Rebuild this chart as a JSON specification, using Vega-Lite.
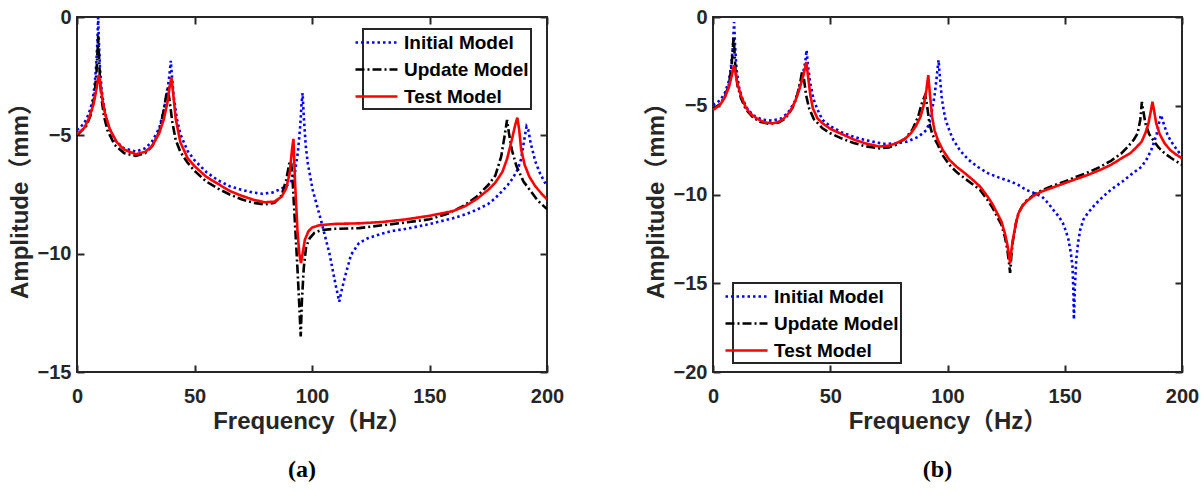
{
  "$schema": "https://vega.github.io/schema/vega-lite/v6.json",
  "background": "white",
  "padding": {"left": 7, "top": 6, "right": 0, "bottom": 0},
  "spacing": 78,
  "config": {
    "font": "Liberation Sans",
    "view": {"stroke": "#262626", "strokeWidth": 2},
    "axis": {
      "labelFont": "Liberation Sans", "labelFontWeight": "bold", "labelFontSize": 20, "labelColor": "#262626",
      "titleFont": "Liberation Sans, Noto Sans CJK SC", "titleFontWeight": "bold", "titleFontSize": 24, "titleColor": "#262626",
      "domain": false, "ticks": true, "tickColor": "#262626", "tickWidth": 2, "tickSize": 7, "offset": -7, "grid": false, "labelFlush": false, "zindex": 1
    },
    "axisX": {"labelPadding": 14, "titlePadding": 3},
    "axisY": {"labelPadding": 6, "titlePadding": 5},
    "legend": {
      "labelFont": "Liberation Sans", "labelFontWeight": "bold", "labelFontSize": 19, "labelColor": "#000000",
      "strokeColor": "#262626", "strokeWidth": 2, "fillColor": "white", "padding": 2,
      "symbolType": "M-2.1,0H2.1", "symbolSize": 400, "symbolStrokeWidth": 2.5, "rowPadding": 5, "labelOffset": 16
    }
  },
  "resolve": {"scale": {"color": "independent", "strokeDash": "independent"}, "legend": {"color": "independent", "strokeDash": "independent"}},
  "datasets": {
    "a": [
      {"m":"Initial Model","f":0,"v":-4.78},{"m":"Initial Model","f":3,"v":-4.5},{"m":"Initial Model","f":5,"v":-4.1},{"m":"Initial Model","f":6.5,"v":-3.6},{"m":"Initial Model","f":7.5,"v":-2.9},{"m":"Initial Model","f":8.2,"v":-2.0},{"m":"Initial Model","f":8.7,"v":-1.0},{"m":"Initial Model","f":9.0,"v":-0.02},{"m":"Initial Model","f":9.3,"v":-1.0},{"m":"Initial Model","f":9.8,"v":-2.2},{"m":"Initial Model","f":10.5,"v":-3.1},{"m":"Initial Model","f":11.5,"v":-3.8},{"m":"Initial Model","f":13,"v":-4.5},{"m":"Initial Model","f":16,"v":-5.2},{"m":"Initial Model","f":20,"v":-5.55},{"m":"Initial Model","f":25,"v":-5.69},{"m":"Initial Model","f":29,"v":-5.55},{"m":"Initial Model","f":32,"v":-5.25},{"m":"Initial Model","f":35,"v":-4.7},{"m":"Initial Model","f":37,"v":-3.9},{"m":"Initial Model","f":38.5,"v":-3.1},{"m":"Initial Model","f":39.4,"v":-2.4},{"m":"Initial Model","f":39.9,"v":-1.85},{"m":"Initial Model","f":40.4,"v":-2.5},{"m":"Initial Model","f":41.2,"v":-3.4},{"m":"Initial Model","f":42.5,"v":-4.3},{"m":"Initial Model","f":44,"v":-4.95},{"m":"Initial Model","f":47,"v":-5.65},{"m":"Initial Model","f":50,"v":-6.05},{"m":"Initial Model","f":55,"v":-6.55},{"m":"Initial Model","f":60,"v":-6.9},{"m":"Initial Model","f":65,"v":-7.15},{"m":"Initial Model","f":70,"v":-7.3},{"m":"Initial Model","f":75,"v":-7.42},{"m":"Initial Model","f":79,"v":-7.47},{"m":"Initial Model","f":83,"v":-7.42},{"m":"Initial Model","f":86,"v":-7.3},{"m":"Initial Model","f":89,"v":-7.15},{"m":"Initial Model","f":91,"v":-6.95},{"m":"Initial Model","f":92.7,"v":-6.6},{"m":"Initial Model","f":94,"v":-5.7},{"m":"Initial Model","f":95,"v":-4.6},{"m":"Initial Model","f":95.6,"v":-3.6},{"m":"Initial Model","f":96,"v":-3.22},{"m":"Initial Model","f":96.5,"v":-4.2},{"m":"Initial Model","f":97.3,"v":-5.4},{"m":"Initial Model","f":98.2,"v":-6.18},{"m":"Initial Model","f":100.3,"v":-7.31},{"m":"Initial Model","f":103.8,"v":-8.58},{"m":"Initial Model","f":107.4,"v":-9.98},{"m":"Initial Model","f":110.2,"v":-11.39},{"m":"Initial Model","f":111.6,"v":-12.03},{"m":"Initial Model","f":112.5,"v":-11.6},{"m":"Initial Model","f":113.7,"v":-11.1},{"m":"Initial Model","f":116.6,"v":-10.05},{"m":"Initial Model","f":120,"v":-9.55},{"m":"Initial Model","f":123.7,"v":-9.35},{"m":"Initial Model","f":130,"v":-9.15},{"m":"Initial Model","f":133.6,"v":-9.05},{"m":"Initial Model","f":140,"v":-8.95},{"m":"Initial Model","f":150,"v":-8.75},{"m":"Initial Model","f":160,"v":-8.5},{"m":"Initial Model","f":165,"v":-8.35},{"m":"Initial Model","f":170,"v":-8.15},{"m":"Initial Model","f":175,"v":-7.9},{"m":"Initial Model","f":178,"v":-7.65},{"m":"Initial Model","f":181,"v":-7.35},{"m":"Initial Model","f":183.3,"v":-7.1},{"m":"Initial Model","f":185.5,"v":-6.8},{"m":"Initial Model","f":187.5,"v":-6.45},{"m":"Initial Model","f":189,"v":-6.0},{"m":"Initial Model","f":190.3,"v":-5.2},{"m":"Initial Model","f":191.3,"v":-4.63},{"m":"Initial Model","f":192,"v":-4.75},{"m":"Initial Model","f":193,"v":-5.3},{"m":"Initial Model","f":195,"v":-6.1},{"m":"Initial Model","f":197,"v":-6.6},{"m":"Initial Model","f":200,"v":-7.16},

      {"m":"Update Model","f":0,"v":-5.0},{"m":"Update Model","f":4,"v":-4.6},{"m":"Update Model","f":6,"v":-4.1},{"m":"Update Model","f":7.5,"v":-3.3},{"m":"Update Model","f":8.3,"v":-2.3},{"m":"Update Model","f":8.8,"v":-1.3},{"m":"Update Model","f":9.0,"v":-0.8},{"m":"Update Model","f":9.3,"v":-1.5},{"m":"Update Model","f":9.8,"v":-2.7},{"m":"Update Model","f":10.5,"v":-3.5},{"m":"Update Model","f":11.5,"v":-4.2},{"m":"Update Model","f":13,"v":-4.8},{"m":"Update Model","f":16,"v":-5.4},{"m":"Update Model","f":20,"v":-5.75},{"m":"Update Model","f":25,"v":-5.87},{"m":"Update Model","f":29,"v":-5.75},{"m":"Update Model","f":32,"v":-5.45},{"m":"Update Model","f":35,"v":-4.85},{"m":"Update Model","f":37,"v":-3.9},{"m":"Update Model","f":38.3,"v":-3.1},{"m":"Update Model","f":38.7,"v":-3.05},{"m":"Update Model","f":39.5,"v":-3.6},{"m":"Update Model","f":40.5,"v":-4.4},{"m":"Update Model","f":42,"v":-5.2},{"m":"Update Model","f":44,"v":-5.7},{"m":"Update Model","f":47,"v":-6.15},{"m":"Update Model","f":50,"v":-6.5},{"m":"Update Model","f":55,"v":-6.95},{"m":"Update Model","f":60,"v":-7.25},{"m":"Update Model","f":65,"v":-7.5},{"m":"Update Model","f":70,"v":-7.7},{"m":"Update Model","f":75,"v":-7.85},{"m":"Update Model","f":80,"v":-7.92},{"m":"Update Model","f":84,"v":-7.85},{"m":"Update Model","f":87,"v":-7.55},{"m":"Update Model","f":89,"v":-6.9},{"m":"Update Model","f":90.3,"v":-6.2},{"m":"Update Model","f":91.1,"v":-6.1},{"m":"Update Model","f":91.8,"v":-7.0},{"m":"Update Model","f":92.8,"v":-8.8},{"m":"Update Model","f":93.8,"v":-10.6},{"m":"Update Model","f":94.6,"v":-12.2},{"m":"Update Model","f":95.2,"v":-13.5},{"m":"Update Model","f":95.7,"v":-12.0},{"m":"Update Model","f":96.5,"v":-10.6},{"m":"Update Model","f":97.5,"v":-9.7},{"m":"Update Model","f":99,"v":-9.35},{"m":"Update Model","f":101,"v":-9.12},{"m":"Update Model","f":104,"v":-9.0},{"m":"Update Model","f":110,"v":-8.95},{"m":"Update Model","f":120,"v":-8.92},{"m":"Update Model","f":130,"v":-8.8},{"m":"Update Model","f":140,"v":-8.68},{"m":"Update Model","f":150,"v":-8.55},{"m":"Update Model","f":158,"v":-8.3},{"m":"Update Model","f":165,"v":-7.95},{"m":"Update Model","f":170,"v":-7.6},{"m":"Update Model","f":175,"v":-7.1},{"m":"Update Model","f":178,"v":-6.7},{"m":"Update Model","f":180.5,"v":-5.9},{"m":"Update Model","f":182,"v":-5.0},{"m":"Update Model","f":183,"v":-4.35},{"m":"Update Model","f":183.8,"v":-4.9},{"m":"Update Model","f":185,"v":-5.6},{"m":"Update Model","f":187,"v":-6.3},{"m":"Update Model","f":190,"v":-6.95},{"m":"Update Model","f":193,"v":-7.35},{"m":"Update Model","f":196,"v":-7.75},{"m":"Update Model","f":200,"v":-8.12},

      {"m":"Test Model","f":0,"v":-4.95},{"m":"Test Model","f":3,"v":-4.7},{"m":"Test Model","f":5,"v":-4.3},{"m":"Test Model","f":7,"v":-3.7},{"m":"Test Model","f":8,"v":-3.2},{"m":"Test Model","f":8.7,"v":-2.8},{"m":"Test Model","f":9.3,"v":-2.45},{"m":"Test Model","f":10,"v":-2.9},{"m":"Test Model","f":11,"v":-3.6},{"m":"Test Model","f":12,"v":-4.1},{"m":"Test Model","f":14,"v":-4.75},{"m":"Test Model","f":17,"v":-5.3},{"m":"Test Model","f":20,"v":-5.6},{"m":"Test Model","f":25,"v":-5.8},{"m":"Test Model","f":29,"v":-5.7},{"m":"Test Model","f":32,"v":-5.45},{"m":"Test Model","f":35,"v":-4.9},{"m":"Test Model","f":37,"v":-4.3},{"m":"Test Model","f":38.5,"v":-3.6},{"m":"Test Model","f":39.5,"v":-2.9},{"m":"Test Model","f":40.2,"v":-2.55},{"m":"Test Model","f":41,"v":-3.3},{"m":"Test Model","f":42,"v":-4.3},{"m":"Test Model","f":44,"v":-5.3},{"m":"Test Model","f":47,"v":-5.95},{"m":"Test Model","f":50,"v":-6.3},{"m":"Test Model","f":55,"v":-6.75},{"m":"Test Model","f":60,"v":-7.05},{"m":"Test Model","f":65,"v":-7.35},{"m":"Test Model","f":70,"v":-7.55},{"m":"Test Model","f":75,"v":-7.72},{"m":"Test Model","f":80,"v":-7.83},{"m":"Test Model","f":84,"v":-7.8},{"m":"Test Model","f":87,"v":-7.6},{"m":"Test Model","f":89,"v":-7.25},{"m":"Test Model","f":90.5,"v":-6.6},{"m":"Test Model","f":91.5,"v":-5.6},{"m":"Test Model","f":92.1,"v":-5.15},{"m":"Test Model","f":92.8,"v":-7.0},{"m":"Test Model","f":93.8,"v":-9.0},{"m":"Test Model","f":94.6,"v":-10.0},{"m":"Test Model","f":95.3,"v":-10.4},{"m":"Test Model","f":96,"v":-10.0},{"m":"Test Model","f":97,"v":-9.4},{"m":"Test Model","f":98.5,"v":-9.05},{"m":"Test Model","f":100,"v":-8.9},{"m":"Test Model","f":103,"v":-8.8},{"m":"Test Model","f":110,"v":-8.74},{"m":"Test Model","f":120,"v":-8.72},{"m":"Test Model","f":130,"v":-8.66},{"m":"Test Model","f":140,"v":-8.55},{"m":"Test Model","f":150,"v":-8.4},{"m":"Test Model","f":160,"v":-8.2},{"m":"Test Model","f":165,"v":-8.0},{"m":"Test Model","f":170,"v":-7.7},{"m":"Test Model","f":175,"v":-7.3},{"m":"Test Model","f":178,"v":-7.0},{"m":"Test Model","f":181,"v":-6.55},{"m":"Test Model","f":183,"v":-6.0},{"m":"Test Model","f":185,"v":-5.2},{"m":"Test Model","f":186.5,"v":-4.55},{"m":"Test Model","f":187.4,"v":-4.25},{"m":"Test Model","f":188.2,"v":-4.8},{"m":"Test Model","f":189,"v":-5.6},{"m":"Test Model","f":190.5,"v":-6.25},{"m":"Test Model","f":192.5,"v":-6.75},{"m":"Test Model","f":195,"v":-7.15},{"m":"Test Model","f":198,"v":-7.5},{"m":"Test Model","f":200,"v":-7.7}
    ],
    "b": [
      {"m":"Initial Model","f":0,"v":-4.96},{"m":"Initial Model","f":3,"v":-4.7},{"m":"Initial Model","f":5,"v":-4.3},{"m":"Initial Model","f":6.8,"v":-3.6},{"m":"Initial Model","f":7.8,"v":-2.7},{"m":"Initial Model","f":8.5,"v":-1.6},{"m":"Initial Model","f":9.0,"v":-0.28},{"m":"Initial Model","f":9.4,"v":-1.6},{"m":"Initial Model","f":10,"v":-2.9},{"m":"Initial Model","f":11,"v":-3.9},{"m":"Initial Model","f":12.5,"v":-4.6},{"m":"Initial Model","f":15,"v":-5.25},{"m":"Initial Model","f":18,"v":-5.6},{"m":"Initial Model","f":21,"v":-5.78},{"m":"Initial Model","f":25,"v":-5.84},{"m":"Initial Model","f":29,"v":-5.72},{"m":"Initial Model","f":32,"v":-5.4},{"m":"Initial Model","f":35,"v":-4.75},{"m":"Initial Model","f":37,"v":-3.9},{"m":"Initial Model","f":38.5,"v":-3.1},{"m":"Initial Model","f":39.4,"v":-2.5},{"m":"Initial Model","f":39.9,"v":-1.87},{"m":"Initial Model","f":40.4,"v":-2.6},{"m":"Initial Model","f":41.3,"v":-3.6},{"m":"Initial Model","f":42.8,"v":-4.6},{"m":"Initial Model","f":44.5,"v":-5.2},{"m":"Initial Model","f":46.7,"v":-5.8},{"m":"Initial Model","f":50,"v":-6.15},{"m":"Initial Model","f":55,"v":-6.5},{"m":"Initial Model","f":60,"v":-6.75},{"m":"Initial Model","f":65,"v":-6.93},{"m":"Initial Model","f":70,"v":-7.08},{"m":"Initial Model","f":73.5,"v":-7.15},{"m":"Initial Model","f":78,"v":-7.12},{"m":"Initial Model","f":82.8,"v":-7.02},{"m":"Initial Model","f":87.7,"v":-6.74},{"m":"Initial Model","f":91,"v":-6.37},{"m":"Initial Model","f":92.5,"v":-5.9},{"m":"Initial Model","f":93.4,"v":-5.24},{"m":"Initial Model","f":94.4,"v":-4.5},{"m":"Initial Model","f":95.1,"v":-3.75},{"m":"Initial Model","f":95.7,"v":-3.0},{"m":"Initial Model","f":96.2,"v":-2.43},{"m":"Initial Model","f":96.7,"v":-3.3},{"m":"Initial Model","f":97.5,"v":-4.49},{"m":"Initial Model","f":98.3,"v":-5.2},{"m":"Initial Model","f":99.2,"v":-5.8},{"m":"Initial Model","f":100.8,"v":-6.4},{"m":"Initial Model","f":102.5,"v":-6.93},{"m":"Initial Model","f":105.5,"v":-7.55},{"m":"Initial Model","f":109,"v":-8.05},{"m":"Initial Model","f":113,"v":-8.45},{"m":"Initial Model","f":117.2,"v":-8.8},{"m":"Initial Model","f":122,"v":-9.05},{"m":"Initial Model","f":127,"v":-9.27},{"m":"Initial Model","f":130,"v":-9.45},{"m":"Initial Model","f":133.6,"v":-9.74},{"m":"Initial Model","f":137,"v":-9.92},{"m":"Initial Model","f":140.2,"v":-10.11},{"m":"Initial Model","f":143,"v":-10.5},{"m":"Initial Model","f":145.1,"v":-10.86},{"m":"Initial Model","f":147.5,"v":-11.25},{"m":"Initial Model","f":149.2,"v":-11.61},{"m":"Initial Model","f":150.6,"v":-12.1},{"m":"Initial Model","f":151.6,"v":-12.55},{"m":"Initial Model","f":152.6,"v":-13.3},{"m":"Initial Model","f":153.3,"v":-14.04},{"m":"Initial Model","f":153.7,"v":-15.5},{"m":"Initial Model","f":153.9,"v":-17.04},{"m":"Initial Model","f":154.3,"v":-15.3},{"m":"Initial Model","f":154.9,"v":-13.67},{"m":"Initial Model","f":155.7,"v":-12.7},{"m":"Initial Model","f":156.6,"v":-11.99},{"m":"Initial Model","f":158,"v":-11.4},{"m":"Initial Model","f":159.8,"v":-11.05},{"m":"Initial Model","f":163,"v":-10.55},{"m":"Initial Model","f":166.4,"v":-10.11},{"m":"Initial Model","f":170,"v":-9.7},{"m":"Initial Model","f":174.6,"v":-9.27},{"m":"Initial Model","f":178.5,"v":-8.85},{"m":"Initial Model","f":182.8,"v":-8.43},{"m":"Initial Model","f":185,"v":-8.0},{"m":"Initial Model","f":186.9,"v":-7.49},{"m":"Initial Model","f":188.2,"v":-7.0},{"m":"Initial Model","f":189.3,"v":-6.55},{"m":"Initial Model","f":190.3,"v":-5.9},{"m":"Initial Model","f":191,"v":-5.52},{"m":"Initial Model","f":191.7,"v":-5.8},{"m":"Initial Model","f":192.6,"v":-6.18},{"m":"Initial Model","f":194,"v":-6.7},{"m":"Initial Model","f":195.9,"v":-7.12},{"m":"Initial Model","f":198,"v":-7.5},{"m":"Initial Model","f":200,"v":-7.87},

      {"m":"Update Model","f":0,"v":-5.2},{"m":"Update Model","f":3,"v":-4.9},{"m":"Update Model","f":5,"v":-4.5},{"m":"Update Model","f":6.8,"v":-3.8},{"m":"Update Model","f":7.8,"v":-2.9},{"m":"Update Model","f":8.4,"v":-1.9},{"m":"Update Model","f":8.8,"v":-1.15},{"m":"Update Model","f":9.1,"v":-1.8},{"m":"Update Model","f":9.6,"v":-3.0},{"m":"Update Model","f":10.5,"v":-3.9},{"m":"Update Model","f":12,"v":-4.6},{"m":"Update Model","f":14,"v":-5.2},{"m":"Update Model","f":17,"v":-5.65},{"m":"Update Model","f":20,"v":-5.9},{"m":"Update Model","f":24,"v":-6.02},{"m":"Update Model","f":28,"v":-5.95},{"m":"Update Model","f":31,"v":-5.7},{"m":"Update Model","f":34,"v":-5.1},{"m":"Update Model","f":36,"v":-4.35},{"m":"Update Model","f":37.3,"v":-3.6},{"m":"Update Model","f":38,"v":-3.08},{"m":"Update Model","f":38.7,"v":-3.4},{"m":"Update Model","f":39.7,"v":-4.4},{"m":"Update Model","f":41,"v":-5.15},{"m":"Update Model","f":43,"v":-5.75},{"m":"Update Model","f":46.7,"v":-6.27},{"m":"Update Model","f":50,"v":-6.55},{"m":"Update Model","f":55,"v":-6.85},{"m":"Update Model","f":60,"v":-7.1},{"m":"Update Model","f":65,"v":-7.28},{"m":"Update Model","f":71,"v":-7.4},{"m":"Update Model","f":75,"v":-7.35},{"m":"Update Model","f":78,"v":-7.2},{"m":"Update Model","f":82,"v":-6.85},{"m":"Update Model","f":85,"v":-6.35},{"m":"Update Model","f":87.5,"v":-5.6},{"m":"Update Model","f":89.2,"v":-4.8},{"m":"Update Model","f":90.5,"v":-4.4},{"m":"Update Model","f":91.3,"v":-5.0},{"m":"Update Model","f":92.3,"v":-6.0},{"m":"Update Model","f":93.5,"v":-6.6},{"m":"Update Model","f":95.9,"v":-7.21},{"m":"Update Model","f":98,"v":-7.8},{"m":"Update Model","f":100.8,"v":-8.33},{"m":"Update Model","f":104,"v":-8.75},{"m":"Update Model","f":107.4,"v":-9.1},{"m":"Update Model","f":111,"v":-9.45},{"m":"Update Model","f":113.9,"v":-9.74},{"m":"Update Model","f":117,"v":-10.3},{"m":"Update Model","f":119,"v":-10.7},{"m":"Update Model","f":121,"v":-11.2},{"m":"Update Model","f":123,"v":-11.7},{"m":"Update Model","f":124.5,"v":-12.4},{"m":"Update Model","f":125.5,"v":-13.1},{"m":"Update Model","f":126.2,"v":-13.8},{"m":"Update Model","f":126.7,"v":-14.42},{"m":"Update Model","f":127.2,"v":-13.5},{"m":"Update Model","f":127.8,"v":-12.7},{"m":"Update Model","f":128.4,"v":-12.2},{"m":"Update Model","f":129.3,"v":-11.55},{"m":"Update Model","f":130.3,"v":-11.05},{"m":"Update Model","f":132,"v":-10.62},{"m":"Update Model","f":133.6,"v":-10.35},{"m":"Update Model","f":137,"v":-10.0},{"m":"Update Model","f":140.2,"v":-9.76},{"m":"Update Model","f":145,"v":-9.5},{"m":"Update Model","f":150,"v":-9.27},{"m":"Update Model","f":155,"v":-9.0},{"m":"Update Model","f":160,"v":-8.75},{"m":"Update Model","f":165,"v":-8.45},{"m":"Update Model","f":169.7,"v":-8.1},{"m":"Update Model","f":174,"v":-7.7},{"m":"Update Model","f":177,"v":-7.3},{"m":"Update Model","f":179.5,"v":-6.9},{"m":"Update Model","f":181.1,"v":-6.55},{"m":"Update Model","f":182.2,"v":-5.8},{"m":"Update Model","f":182.9,"v":-4.78},{"m":"Update Model","f":183.5,"v":-5.3},{"m":"Update Model","f":184.4,"v":-5.99},{"m":"Update Model","f":186,"v":-6.6},{"m":"Update Model","f":187.7,"v":-6.93},{"m":"Update Model","f":190,"v":-7.35},{"m":"Update Model","f":192.6,"v":-7.68},{"m":"Update Model","f":196,"v":-8.0},{"m":"Update Model","f":200,"v":-8.33},

      {"m":"Test Model","f":0,"v":-5.24},{"m":"Test Model","f":3,"v":-4.95},{"m":"Test Model","f":5,"v":-4.55},{"m":"Test Model","f":6.8,"v":-3.95},{"m":"Test Model","f":8,"v":-3.3},{"m":"Test Model","f":8.8,"v":-2.8},{"m":"Test Model","f":9.0,"v":-2.72},{"m":"Test Model","f":9.5,"v":-3.1},{"m":"Test Model","f":10.5,"v":-3.8},{"m":"Test Model","f":12,"v":-4.45},{"m":"Test Model","f":14,"v":-5.1},{"m":"Test Model","f":16,"v":-5.45},{"m":"Test Model","f":19,"v":-5.75},{"m":"Test Model","f":22,"v":-5.94},{"m":"Test Model","f":25.4,"v":-5.99},{"m":"Test Model","f":28,"v":-5.9},{"m":"Test Model","f":30.3,"v":-5.71},{"m":"Test Model","f":33,"v":-5.3},{"m":"Test Model","f":35.2,"v":-4.7},{"m":"Test Model","f":37,"v":-4.0},{"m":"Test Model","f":38.5,"v":-3.3},{"m":"Test Model","f":39.3,"v":-2.85},{"m":"Test Model","f":39.8,"v":-2.53},{"m":"Test Model","f":40.5,"v":-3.3},{"m":"Test Model","f":41.5,"v":-4.4},{"m":"Test Model","f":42.6,"v":-5.15},{"m":"Test Model","f":44.5,"v":-5.7},{"m":"Test Model","f":46.7,"v":-5.99},{"m":"Test Model","f":50,"v":-6.3},{"m":"Test Model","f":55,"v":-6.6},{"m":"Test Model","f":60,"v":-6.9},{"m":"Test Model","f":65,"v":-7.12},{"m":"Test Model","f":71,"v":-7.3},{"m":"Test Model","f":75,"v":-7.25},{"m":"Test Model","f":78,"v":-7.12},{"m":"Test Model","f":82,"v":-6.85},{"m":"Test Model","f":84.4,"v":-6.55},{"m":"Test Model","f":86.5,"v":-6.15},{"m":"Test Model","f":88.5,"v":-5.62},{"m":"Test Model","f":90,"v":-4.9},{"m":"Test Model","f":91,"v":-4.1},{"m":"Test Model","f":91.8,"v":-3.28},{"m":"Test Model","f":92.4,"v":-4.2},{"m":"Test Model","f":93.4,"v":-5.6},{"m":"Test Model","f":94.5,"v":-6.4},{"m":"Test Model","f":95.9,"v":-6.93},{"m":"Test Model","f":98,"v":-7.5},{"m":"Test Model","f":100.8,"v":-8.05},{"m":"Test Model","f":104,"v":-8.45},{"m":"Test Model","f":107.4,"v":-8.8},{"m":"Test Model","f":111,"v":-9.2},{"m":"Test Model","f":113.9,"v":-9.55},{"m":"Test Model","f":117,"v":-10.1},{"m":"Test Model","f":119,"v":-10.5},{"m":"Test Model","f":121,"v":-11.0},{"m":"Test Model","f":123,"v":-11.52},{"m":"Test Model","f":124.5,"v":-12.2},{"m":"Test Model","f":125.5,"v":-12.8},{"m":"Test Model","f":126.2,"v":-13.4},{"m":"Test Model","f":126.7,"v":-13.86},{"m":"Test Model","f":127.2,"v":-13.2},{"m":"Test Model","f":127.8,"v":-12.6},{"m":"Test Model","f":128.4,"v":-12.17},{"m":"Test Model","f":129.3,"v":-11.55},{"m":"Test Model","f":130.3,"v":-11.05},{"m":"Test Model","f":132,"v":-10.65},{"m":"Test Model","f":133.6,"v":-10.39},{"m":"Test Model","f":137,"v":-10.05},{"m":"Test Model","f":140.2,"v":-9.83},{"m":"Test Model","f":145,"v":-9.6},{"m":"Test Model","f":150,"v":-9.36},{"m":"Test Model","f":155,"v":-9.12},{"m":"Test Model","f":159.8,"v":-8.9},{"m":"Test Model","f":165,"v":-8.62},{"m":"Test Model","f":169.7,"v":-8.33},{"m":"Test Model","f":174,"v":-7.98},{"m":"Test Model","f":177.9,"v":-7.68},{"m":"Test Model","f":180.5,"v":-7.35},{"m":"Test Model","f":182.8,"v":-7.02},{"m":"Test Model","f":184.5,"v":-6.5},{"m":"Test Model","f":185.7,"v":-5.99},{"m":"Test Model","f":186.7,"v":-5.3},{"m":"Test Model","f":187.4,"v":-4.78},{"m":"Test Model","f":188,"v":-5.2},{"m":"Test Model","f":189,"v":-5.99},{"m":"Test Model","f":190.5,"v":-6.6},{"m":"Test Model","f":192.6,"v":-7.12},{"m":"Test Model","f":195,"v":-7.5},{"m":"Test Model","f":197.5,"v":-7.75},{"m":"Test Model","f":200,"v":-7.96}
    ]
  },
  "hconcat": [
    {
      "width": 470, "height": 355,
      "data": {"name": "a"},
      "title": {"text": "(a)", "orient": "bottom", "font": "Liberation Serif", "fontSize": 24, "fontWeight": "bold", "color": "#000000", "offset": 25, "frame": "group", "anchor": "middle", "dx": -10},
      "encoding": {
        "color": {"field": "m", "type": "nominal", "scale": {"domain": ["Initial Model", "Update Model", "Test Model"], "range": ["#0000FF", "#000000", "#FF0000"]}, "legend": {"title": null, "orient": "none", "legendX": 286, "legendY": 12}},
        "strokeDash": {"field": "m", "type": "nominal", "scale": {"domain": ["Initial Model", "Update Model", "Test Model"], "range": [[2.5, 3], [9, 3, 2, 3], [1, 0]]}, "legend": {"title": null, "orient": "none", "legendX": 286, "legendY": 12}}
      },
      "layer": [
        {
          "transform": [{"filter": "datum.m === 'Initial Model'"}],
          "mark": {"type": "line", "strokeWidth": 2.6, "clip": true},
          "encoding": {
            "x": {"field": "f", "type": "quantitative", "scale": {"domain": [0, 200], "nice": false}, "axis": {"orient": "bottom", "values": [0, 50, 100, 150, 200], "title": "Frequency（Hz）"}},
            "y": {"field": "v", "type": "quantitative", "scale": {"domain": [-15, 0], "nice": false, "zero": false}, "axis": {"orient": "left", "values": [0, -5, -10, -15], "title": "Amplitude（mm）"}}
          }
        },
        {
          "transform": [{"filter": "datum.m === 'Update Model'"}],
          "mark": {"type": "line", "strokeWidth": 2.6, "clip": true},
          "encoding": {
            "x": {"field": "f", "type": "quantitative", "axis": {"orient": "top", "values": [0, 50, 100, 150, 200], "labels": false, "title": null}},
            "y": {"field": "v", "type": "quantitative", "axis": {"orient": "right", "values": [0, -5, -10, -15], "labels": false, "title": null}}
          }
        },
        {
          "transform": [{"filter": "datum.m === 'Test Model'"}],
          "mark": {"type": "line", "strokeWidth": 2.6, "clip": true},
          "encoding": {
            "x": {"field": "f", "type": "quantitative", "axis": null},
            "y": {"field": "v", "type": "quantitative", "axis": null}
          }
        }
      ]
    },
    {
      "width": 469, "height": 355,
      "data": {"name": "b"},
      "title": {"text": "(b)", "orient": "bottom", "font": "Liberation Serif", "fontSize": 24, "fontWeight": "bold", "color": "#000000", "offset": 25, "frame": "group", "anchor": "middle", "dx": -10},
      "encoding": {
        "color": {"field": "m", "type": "nominal", "scale": {"domain": ["Initial Model", "Update Model", "Test Model"], "range": ["#0000FF", "#000000", "#FF0000"]}, "legend": {"title": null, "orient": "none", "legendX": 20, "legendY": 266}},
        "strokeDash": {"field": "m", "type": "nominal", "scale": {"domain": ["Initial Model", "Update Model", "Test Model"], "range": [[2.5, 3], [9, 3, 2, 3], [1, 0]]}, "legend": {"title": null, "orient": "none", "legendX": 20, "legendY": 266}}
      },
      "layer": [
        {
          "transform": [{"filter": "datum.m === 'Initial Model'"}],
          "mark": {"type": "line", "strokeWidth": 2.6, "clip": true},
          "encoding": {
            "x": {"field": "f", "type": "quantitative", "scale": {"domain": [0, 200], "nice": false}, "axis": {"orient": "bottom", "values": [0, 50, 100, 150, 200], "title": "Frequency（Hz）"}},
            "y": {"field": "v", "type": "quantitative", "scale": {"domain": [-20, 0], "nice": false, "zero": false}, "axis": {"orient": "left", "values": [0, -5, -10, -15, -20], "title": "Amplitude（mm）"}}
          }
        },
        {
          "transform": [{"filter": "datum.m === 'Update Model'"}],
          "mark": {"type": "line", "strokeWidth": 2.6, "clip": true},
          "encoding": {
            "x": {"field": "f", "type": "quantitative", "axis": {"orient": "top", "values": [0, 50, 100, 150, 200], "labels": false, "title": null}},
            "y": {"field": "v", "type": "quantitative", "axis": {"orient": "right", "values": [0, -5, -10, -15, -20], "labels": false, "title": null}}
          }
        },
        {
          "transform": [{"filter": "datum.m === 'Test Model'"}],
          "mark": {"type": "line", "strokeWidth": 2.6, "clip": true},
          "encoding": {
            "x": {"field": "f", "type": "quantitative", "axis": null},
            "y": {"field": "v", "type": "quantitative", "axis": null}
          }
        }
      ]
    }
  ]
}
